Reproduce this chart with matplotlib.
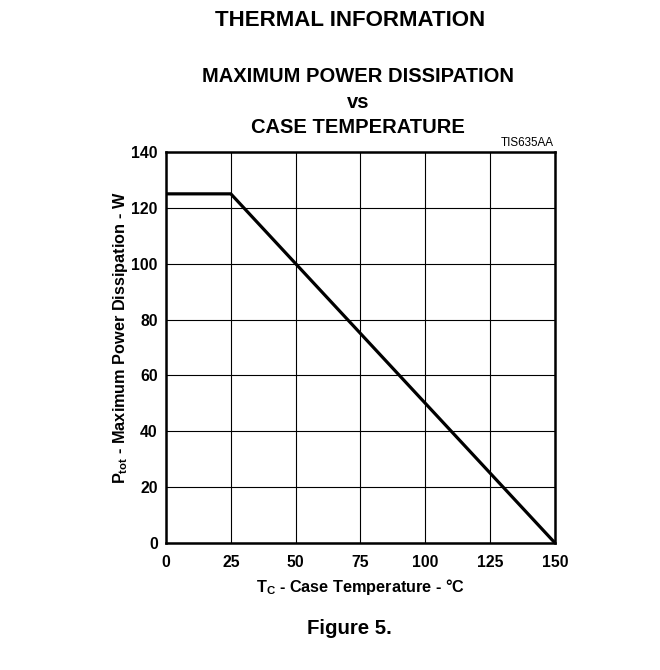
import matplotlib.pyplot as plt

plt.rcParams["font.family"] = ["Liberation Sans", "DejaVu Sans"]
plt.rcParams["font.weight"] = "bold"
plt.rcParams["mathtext.fontset"] = "custom"
plt.rcParams["mathtext.rm"] = "Liberation Sans:bold"
plt.rcParams["mathtext.bf"] = "Liberation Sans:bold"
plt.rcParams["mathtext.it"] = "Liberation Sans:bold"

# derating curve
case_temp = [0, 25, 150]
power = [125, 125, 0]

x_ticks = [0, 25, 50, 75, 100, 125, 150]
y_ticks = [0, 20, 40, 60, 80, 100, 120, 140]

fig = plt.figure(figsize=(6.6, 6.7), dpi=100)
ax = fig.add_axes([0.2515, 0.1896, 0.5894, 0.5836])

ax.plot(case_temp, power, color="black", lw=2.3, solid_capstyle="butt")

ax.set_xlim(0, 150)
ax.set_ylim(0, 140)
ax.set_xticks(x_ticks)
ax.set_yticks(y_ticks)
ax.grid(True, color="black", lw=0.8)
ax.tick_params(length=0, labelsize=11.3)
ax.tick_params(axis="x", pad=9)
ax.tick_params(axis="y", pad=6)
for lab in ax.get_xticklabels() + ax.get_yticklabels():
    lab.set_fontweight("bold")
for sp in ax.spines.values():
    sp.set_linewidth(1.8)

ax.set_xlabel(r"$\mathregular{T_C}$ - Case Temperature - °C", fontsize=11.7,
              fontweight="bold", labelpad=5)
ax.set_ylabel(r"$\mathregular{P_{tot}}$ - Maximum Power Dissipation - W",
              fontsize=11.7, fontweight="bold")
ax.yaxis.set_label_coords(-0.092, 0.524)

fig.text(0.53, 1 - 21 / 670, "THERMAL INFORMATION", ha="center", va="center",
         fontsize=16, fontweight="bold")
fig.text(0.543, 1 - 102 / 670, "MAXIMUM POWER DISSIPATION\nvs\nCASE TEMPERATURE",
         ha="center", va="center", fontsize=14.5, fontweight="bold",
         linespacing=1.45)
fig.text(554 / 660, 1 - 143 / 670, "TIS635AA", ha="right", va="center",
         fontsize=8.4, fontweight="normal")
fig.text(0.53, 1 - 628 / 670, "Figure 5.", ha="center", va="center",
         fontsize=14.7, fontweight="bold")

fig.savefig("out.png", dpi=100)
